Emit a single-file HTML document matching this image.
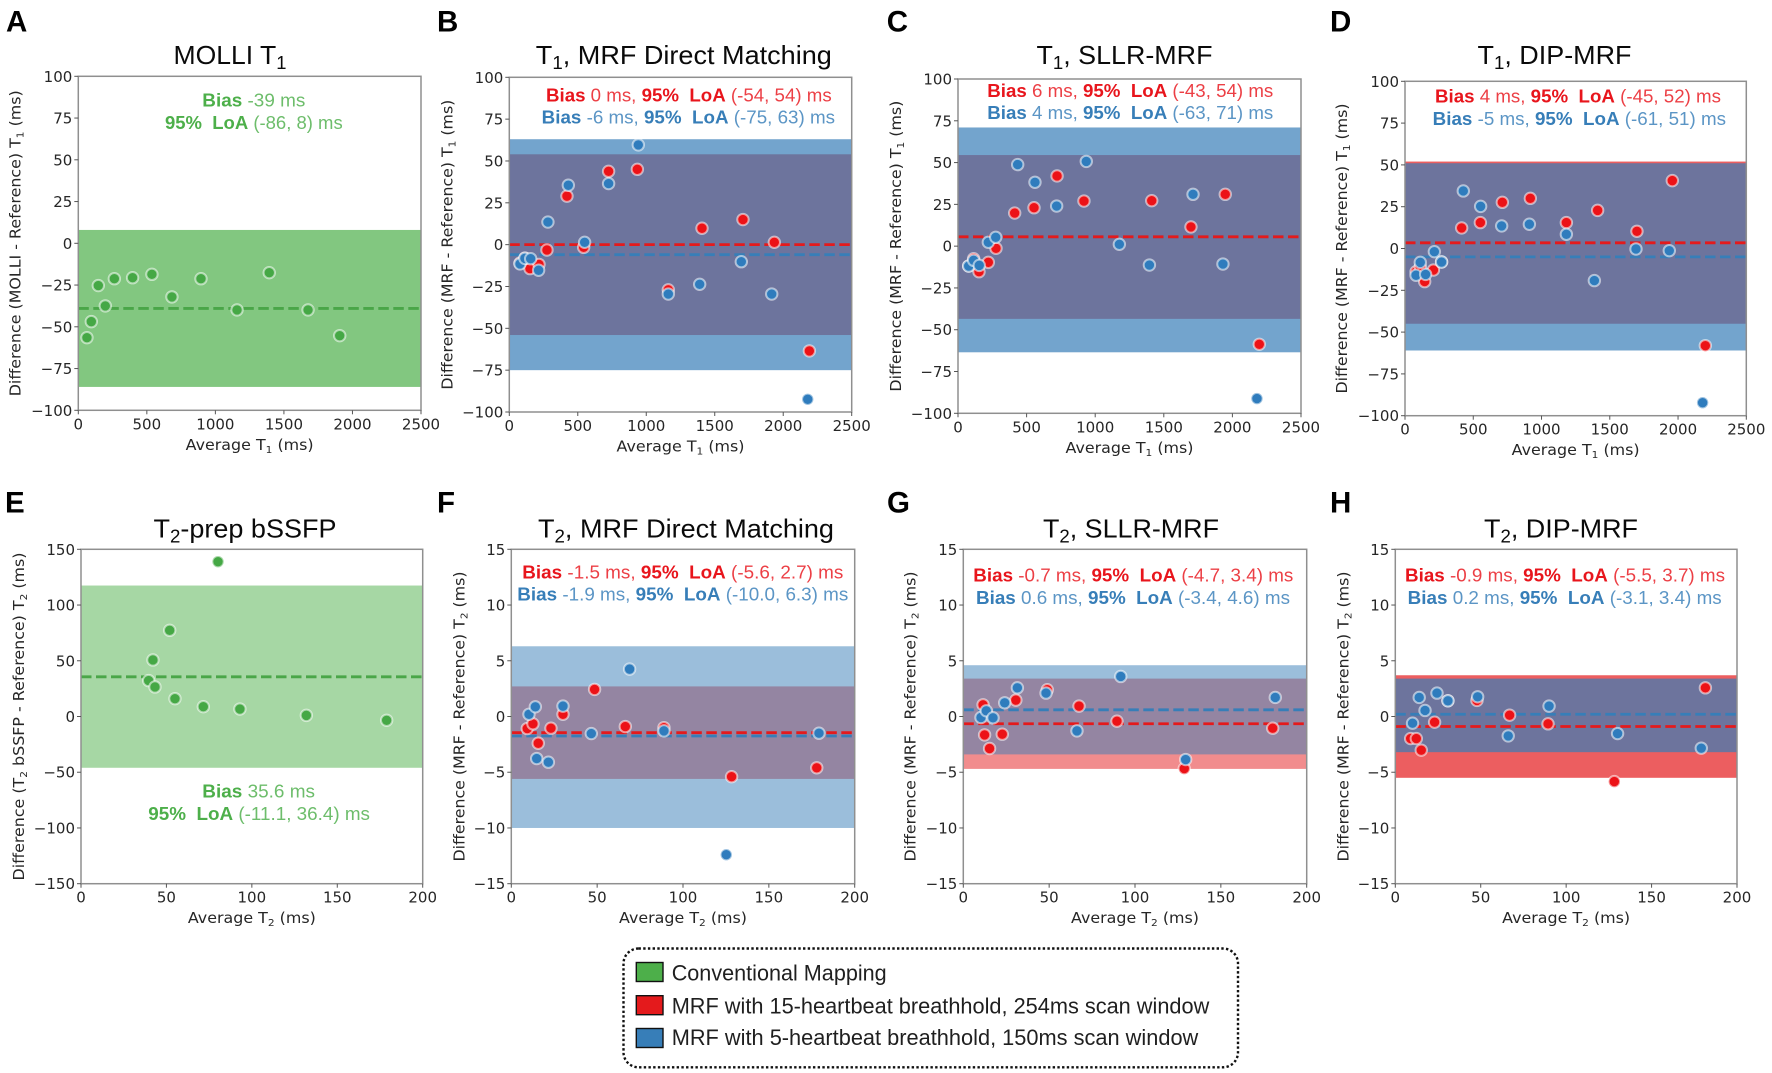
<!DOCTYPE html>
<html lang="en">
<head>
<meta charset="utf-8">
<title>Bland-Altman plots of T1 and T2 mapping</title>
<style>
  html, body { margin: 0; padding: 0; background: #fff; }
  svg { display: block; }
  text { white-space: pre; }
</style>
</head>
<body>
<svg id="figure" xmlns="http://www.w3.org/2000/svg" width="1772" height="1073" viewBox="0 0 1772 1073"></svg>
<script>
// ---------- Tick labels ----------
const t1XTicks = [0, 500, 1000, 1500, 2000, 2500];
const t1YTicks = [-100, -75, -50, -25, 0, 25, 50, 75, 100];
const t2XTicks = [0, 50, 100, 150, 200];
const bssfpYTicks = [-150, -100, -50, 0, 50, 100, 150];
const t2YTicks = [-15, -10, -5, 0, 5, 10, 15];

// ---------- Panel A: MOLLI T1 ----------
const aGreenX = [63, 95, 146, 197, 263, 396, 537, 683, 895, 1158, 1393, 1676, 1907];
const aGreenY = [-56.5, -46.9, -25.3, -37.5, -21.2, -20.6, -18.6, -32.1, -21.2, -39.9, -17.6, -39.9, -55.3];
const aGreenLoA = [-86, 8];
const aGreenBias = [-39];

// ---------- Panel B: T1, MRF Direct Matching ----------
const bRedX = [78, 114, 151, 217, 275, 421, 543, 725, 935, 1161, 1407, 1706, 1935, 2191];
const bRedY = [-11, -8, -14.3, -11.8, -3.2, 29, -1.6, 43.8, 45, -27, 9.8, 15, 1.4, -63.5];
const bBlueX = [78, 114, 156, 214, 282, 431, 550, 725, 942, 1161, 1390, 1694, 1916, 2179];
const bBlueY = [-11.5, -8.2, -8.4, -15.3, 13.5, 35.5, 1.4, 36.5, 59.6, -29.5, -23.7, -10.2, -29.5, -92.4];
const bRedLoA = [-54, 54];
const bBlueLoA = [-75, 63];
const bRedBias = [0];
const bBlueBias = [-6];

// ---------- Panel C: T1, SLLR-MRF ----------
const cRedX = [78, 114, 153, 221, 277, 413, 554, 722, 918, 1412, 1698, 1948, 2196];
const cRedY = [-11.9, -7.5, -15.3, -9.7, -1.3, 19.8, 23, 42, 27, 27.2, 11.5, 31, -58.7];
const cBlueX = [78, 114, 155, 221, 275, 435, 561, 719, 935, 1176, 1395, 1713, 1931, 2179];
const cBlueY = [-11.9, -8.5, -11.5, 2.3, 5.3, 48.8, 38.2, 24, 50.7, 1.1, -11.3, 31, -10.7, -91.2];
const cRedLoA = [-43.5, 54.5];
const cBlueLoA = [-63.5, 71];
const cRedBias = [5.6];
const cBlueBias = [5.6];

// ---------- Panel D: T1, DIP-MRF ----------
const dRedX = [81, 112, 144, 208, 268, 415, 552, 713, 918, 1182, 1411, 1699, 1958, 2200];
const dRedY = [-13.9, -11, -19.8, -12.9, -8, 12.3, 15.5, 27.6, 30, 15.5, 22.8, 10.3, 40.6, -58.1];
const dBlueX = [81, 112, 151, 215, 268, 427, 554, 708, 911, 1182, 1387, 1692, 1936, 2180];
const dBlueY = [-16, -8.3, -15.5, -1.9, -8.1, 34.4, 25.2, 13.5, 14.5, 8.5, -19.2, -0.3, -1.3, -92.2];
const dRedLoA = [-45, 52];
const dBlueLoA = [-61, 51];
const dRedBias = [3.4];
const dBlueBias = [-5];

// ---------- Panel E: T2-prep bSSFP ----------
const eGreenX = [39.6, 42.1, 43.3, 51.9, 55, 71.6, 93, 131.9, 178.9, 80.2];
const eGreenY = [32.2, 50.7, 26.5, 77.3, 16, 8.8, 6.7, 1, -3.4, 138.9];
const eGreenLoA = [-46, 117.5];
const eGreenBias = [35.6];

// ---------- Panel F: T2, MRF Direct Matching ----------
const fRedX = [9.3, 12.6, 15.7, 23.1, 30.1, 48.5, 66.4, 88.9, 128.3, 177.9];
const fRedY = [-1.08, -0.66, -2.4, -1.05, 0.2, 2.43, -0.9, -1, -5.4, -4.6];
const fBlueX = [10.3, 14, 14.8, 21.6, 30.1, 46.6, 68.9, 88.9, 125.2, 179.2];
const fBlueY = [0.2, 0.87, -3.77, -4.1, 0.93, -1.53, 4.25, -1.29, -12.4, -1.5];
const fRedLoA = [-5.6, 2.7];
const fBlueLoA = [-10, 6.3];
const fRedBias = [-1.45];
const fBlueBias = [-1.75];

// ---------- Panel G: T2, SLLR-MRF ----------
const gRedX = [11.5, 12.4, 15.3, 22.7, 30.6, 48.9, 67.4, 89.5, 128.7, 180.2];
const gRedY = [1.05, -1.65, -2.87, -1.59, 1.47, 2.4, 0.93, -0.42, -4.67, -1.05];
const gBlueX = [10.3, 13.4, 17.3, 24.1, 31.5, 48.2, 66.2, 91.7, 129.5, 181.7];
const gBlueY = [-0.09, 0.51, -0.12, 1.23, 2.57, 2.1, -1.29, 3.59, -3.86, 1.71];
const gRedLoA = [-4.7, 3.4];
const gBlueLoA = [-3.4, 4.6];
const gRedBias = [-0.65];
const gBlueBias = [0.6];

// ---------- Panel H: T2, DIP-MRF ----------
const hRedX = [9, 12.3, 15.2, 23, 30.8, 47.8, 66.9, 89.4, 128.2, 181.5];
const hRedY = [-1.98, -1.98, -3.02, -0.51, 1.41, 1.44, 0.12, -0.66, -5.84, 2.57];
const hBlueX = [10.1, 14, 17.4, 24.4, 30.8, 48.2, 66.1, 90, 130.1, 179.1];
const hBlueY = [-0.6, 1.71, 0.54, 2.1, 1.41, 1.77, -1.74, 0.93, -1.53, -2.84];
const hRedLoA = [-5.5, 3.7];
const hBlueLoA = [-3.2, 3.4];
const hRedBias = [-0.9];
const hBlueBias = [0.2];

// ---------- Styling ----------
const RED = { band: '#e41a1c', line: '#e41a1c', dot: '#ec1217', text: '#e8151c' };
const BLUE = { band: '#377eb8', line: '#377eb8', dot: '#2f7cbd', text: '#377eb8' };
const GREEN = { band: '#4daf4a', line: '#4aa648', dot: '#45a845', text: '#4daf4a' };
const SANS = '"Liberation Sans", Arial, sans-serif';
const DEJAVU = '"DejaVu Sans", "Liberation Sans", sans-serif';
const T1X = [0, 2500], T1Y = [-100, 100], T2X = [0, 200], BY = [-150, 150], T2Y = [-15, 15];

const panels = [
  { id: 'a', letter: 'A', lx: 6, ly: 31.7, box: [78.3, 76.3, 421, 410.3], xd: T1X, yd: T1Y, xt: t1XTicks, yt: t1YTicks, alpha: 0.7,
    title: 'MOLLI T_1', tc: 230, tw: 113, tb: 64, xl: 'Average T_1 (ms)', xlw: 128, yl: 'Difference (MOLLI - Reference) T_1 (ms)', ylw: 306, ylo: 57.6,
    series: [{ s: GREEN, x: aGreenX, y: aGreenY, loa: aGreenLoA, bias: aGreenBias }],
    notes: [[GREEN, '**Bias** -39 ms', 202.3, 103, 106.7], [GREEN, '**95%  LoA** (-86, 8) ms', 165, 177.7, 129]] },
  { id: 'b', letter: 'B', lx: 437, ly: 31.7, box: [509.3, 77.3, 851.7, 412], xd: T1X, yd: T1Y, xt: t1XTicks, yt: t1YTicks, alpha: 0.7,
    title: 'T_1, MRF Direct Matching', tc: 683.8, tw: 296, tb: 64, xl: 'Average T_1 (ms)', xlw: 128, yl: 'Difference (MRF - Reference) T_1 (ms)', ylw: 290, ylo: 57,
    series: [{ s: RED, x: bRedX, y: bRedY, loa: bRedLoA, bias: bRedBias }, { s: BLUE, x: bBlueX, y: bBlueY, loa: bBlueLoA, bias: bBlueBias }],
    notes: [[RED, '**Bias** 0 ms, **95%  LoA** (-54, 54) ms', 546, 285.7, 101.3], [BLUE, '**Bias** -6 ms, **95%  LoA** (-75, 63) ms', 541.7, 293.3, 123.7]] },
  { id: 'c', letter: 'C', lx: 886.7, ly: 31.7, box: [958, 79, 1301, 413.3], xd: T1X, yd: T1Y, xt: t1XTicks, yt: t1YTicks, alpha: 0.7,
    title: 'T_1, SLLR-MRF', tc: 1124.5, tw: 176, tb: 64, xl: 'Average T_1 (ms)', xlw: 128, yl: 'Difference (MRF - Reference) T_1 (ms)', ylw: 291, ylo: 57,
    series: [{ s: BLUE, x: cBlueX, y: cBlueY, loa: cBlueLoA, bias: cBlueBias, under: true }, { s: RED, x: cRedX, y: cRedY, loa: cRedLoA, bias: cRedBias }],
    notes: [[RED, '**Bias** 6 ms, **95%  LoA** (-43, 54) ms', 987.3, 286, 97], [BLUE, '**Bias** 4 ms, **95%  LoA** (-63, 71) ms', 987.3, 286, 119]] },
  { id: 'd', letter: 'D', lx: 1330, ly: 31.7, box: [1405, 81.3, 1746.3, 415.7], xd: T1X, yd: T1Y, xt: t1XTicks, yt: t1YTicks, alpha: 0.7,
    title: 'T_1, DIP-MRF', tc: 1554.5, tw: 154, tb: 64, xl: 'Average T_1 (ms)', xlw: 128, yl: 'Difference (MRF - Reference) T_1 (ms)', ylw: 290, ylo: 58,
    series: [{ s: RED, x: dRedX, y: dRedY, loa: dRedLoA, bias: dRedBias }, { s: BLUE, x: dBlueX, y: dBlueY, loa: dBlueLoA, bias: dBlueBias }],
    notes: [[RED, '**Bias** 4 ms, **95%  LoA** (-45, 52) ms', 1435, 286, 102.7], [BLUE, '**Bias** -5 ms, **95%  LoA** (-61, 51) ms', 1432.7, 293.3, 125]] },
  { id: 'e', letter: 'E', lx: 5, ly: 512.3, box: [81, 549.3, 422.7, 883.7], xd: T2X, yd: BY, xt: t2XTicks, yt: bssfpYTicks, alpha: 0.5,
    title: 'T_2-prep bSSFP', tc: 245, tw: 183, tb: 537.7, xl: 'Average T_2 (ms)', xlw: 128, yl: 'Difference (T_2 bSSFP - Reference) T_2 (ms)', ylw: 328, ylo: 57,
    series: [{ s: GREEN, x: eGreenX, y: eGreenY, loa: eGreenLoA, bias: eGreenBias }],
    notes: [[GREEN, '**Bias** 35.6 ms', 202.3, 112.7, 797.7], [GREEN, '**95%  LoA** (-11.1, 36.4) ms', 148.3, 221.7, 820]] },
  { id: 'f', letter: 'F', lx: 437, ly: 512.3, box: [511.3, 549.3, 854.7, 883.7], xd: T2X, yd: T2Y, xt: t2XTicks, yt: t2YTicks, alpha: 0.5,
    title: 'T_2, MRF Direct Matching', tc: 686, tw: 296, tb: 537.7, xl: 'Average T_2 (ms)', xlw: 128, yl: 'Difference (MRF - Reference) T_2 (ms)', ylw: 290, ylo: 47,
    series: [{ s: RED, x: fRedX, y: fRedY, loa: fRedLoA, bias: fRedBias }, { s: BLUE, x: fBlueX, y: fBlueY, loa: fBlueLoA, bias: fBlueBias }],
    notes: [[RED, '**Bias** -1.5 ms, **95%  LoA** (-5.6, 2.7) ms', 522.3, 321, 578.3], [BLUE, '**Bias** -1.9 ms, **95%  LoA** (-10.0, 6.3) ms', 517.3, 331, 600.7]] },
  { id: 'g', letter: 'G', lx: 887, ly: 512.3, box: [963.3, 549.3, 1306.7, 883.7], xd: T2X, yd: T2Y, xt: t2XTicks, yt: t2YTicks, alpha: 0.5,
    title: 'T_2, SLLR-MRF', tc: 1131, tw: 176, tb: 537.7, xl: 'Average T_2 (ms)', xlw: 128, yl: 'Difference (MRF - Reference) T_2 (ms)', ylw: 290, ylo: 47.6,
    series: [{ s: RED, x: gRedX, y: gRedY, loa: gRedLoA, bias: gRedBias }, { s: BLUE, x: gBlueX, y: gBlueY, loa: gBlueLoA, bias: gBlueBias }],
    notes: [[RED, '**Bias** -0.7 ms, **95%  LoA** (-4.7, 3.4) ms', 973.3, 320, 581.7], [BLUE, '**Bias** 0.6 ms, **95%  LoA** (-3.4, 4.6) ms', 976, 314, 604]] },
  { id: 'h', letter: 'H', lx: 1330, ly: 512.3, box: [1395.3, 549.3, 1737, 883.7], xd: T2X, yd: T2Y, xt: t2XTicks, yt: t2YTicks, alpha: 0.7,
    title: 'T_2, DIP-MRF', tc: 1561, tw: 154, tb: 537.7, xl: 'Average T_2 (ms)', xlw: 128, yl: 'Difference (MRF - Reference) T_2 (ms)', ylw: 290, ylo: 47,
    series: [{ s: RED, x: hRedX, y: hRedY, loa: hRedLoA, bias: hRedBias }, { s: BLUE, x: hBlueX, y: hBlueY, loa: hBlueLoA, bias: hBlueBias }],
    notes: [[RED, '**Bias** -0.9 ms, **95%  LoA** (-5.5, 3.7) ms', 1405, 320, 581.7], [BLUE, '**Bias** 0.2 ms, **95%  LoA** (-3.1, 3.4) ms', 1407.7, 314, 604]] }
];

const NS = 'http://www.w3.org/2000/svg';
const root = document.getElementById('figure');

function make(tag, parent) {
  const el = document.createElementNS(NS, tag);
  parent.appendChild(el);
  return el;
}

// Adds text with "_1" style subscripts as tspans.
function addSubText(el, str, subSize, shift) {
  const parts = str.split(/_(\d)/);
  let pendingUp = false;
  parts.forEach(function (part, i) {
    if (part === '') return;
    const ts = make('tspan', el);
    ts.textContent = part;
    if (i % 2 === 1) {
      ts.setAttribute('font-size', subSize);
      ts.setAttribute('dy', shift);
      pendingUp = true;
    } else if (pendingUp) {
      ts.setAttribute('dy', -shift);
      pendingUp = false;
    }
  });
}

function drawPanel(p) {
  const g = make('g', root);
  
  

  const L = p.box[0], T = p.box[1], R = p.box[2], B = p.box[3];
  const xScale = function (v) { return L + (v - p.xd[0]) / (p.xd[1] - p.xd[0]) * (R - L); };
  const yScale = function (v) { return B - (v - p.yd[0]) / (p.yd[1] - p.yd[0]) * (B - T); };

  // Panel letter
  const letter = make('text', g);
  letter.textContent = p.letter;
  letter.setAttribute('x', p.lx);
  letter.setAttribute('y', p.ly);
  letter.setAttribute('font-family', SANS);
  letter.setAttribute('font-weight', 'bold');
  letter.setAttribute('font-size', '29.5');
  letter.setAttribute('fill', '#000');
  
  

  // Title
  const title = make('text', g);
  title.setAttribute('x', p.tc);
  title.setAttribute('y', p.tb);
  title.setAttribute('text-anchor', 'middle');
  title.setAttribute('font-family', SANS);
  title.setAttribute('font-size', '26');
  title.setAttribute('fill', '#0a0a0a');
  title.setAttribute('textLength', p.tw);
  title.setAttribute('lengthAdjust', 'spacingAndGlyphs');
  
  
  addSubText(title, p.title, 18, 5);

  // LoA bands, drawn in series order with transparency
  const orderedBands = p.series.filter(function (s) { return !s.under; }).concat(p.series.filter(function (s) { return s.under; }));
  orderedBands.forEach(function (s) {
    const band = make('rect', g);
    band.setAttribute('x', L);
    band.setAttribute('width', R - L);
    band.setAttribute('y', yScale(s.loa[1]));
    band.setAttribute('height', yScale(s.loa[0]) - yScale(s.loa[1]));
    band.setAttribute('fill', s.s.band);
    band.setAttribute('fill-opacity', p.alpha);
    
    
  });

  // Bias lines
  p.series.forEach(function (s) {
    const line = make('line', g);
    line.setAttribute('x1', L);
    line.setAttribute('x2', R);
    line.setAttribute('y1', yScale(s.bias[0]));
    line.setAttribute('y2', yScale(s.bias[0]));
    line.setAttribute('stroke', s.s.line);
    line.setAttribute('stroke-width', '2.8');
    line.setAttribute('stroke-dasharray', '10.5 4.5');
    
    
  });

  // Points: red under blue
  orderedBands.forEach(function (s) {
    s.x.forEach(function (xv, i) {
      const dot = make('circle', g);
      dot.setAttribute('cx', xScale(xv));
      dot.setAttribute('cy', yScale(s.y[i]));
      dot.setAttribute('r', '5.7');
      dot.setAttribute('fill', s.s.dot);
      dot.setAttribute('stroke', '#fff');
      dot.setAttribute('stroke-opacity', '0.55');
      dot.setAttribute('stroke-width', '2');
      
      
    });
  });

  // Plot frame
  const frame = make('rect', g);
  frame.setAttribute('x', L);
  frame.setAttribute('y', T);
  frame.setAttribute('width', R - L);
  frame.setAttribute('height', B - T);
  frame.setAttribute('fill', 'none');
  frame.setAttribute('stroke', '#8f8f8f');
  frame.setAttribute('stroke-width', '1.5');
  
  

  // X ticks
  p.xt.forEach(function (v) {
    const tick = make('line', g);
    tick.setAttribute('x1', xScale(v));
    tick.setAttribute('x2', xScale(v));
    tick.setAttribute('y1', B);
    tick.setAttribute('y2', B + 4);
    tick.setAttribute('stroke', '#555');
    tick.setAttribute('stroke-width', '1');
    
    

    const lab = make('text', g);
    lab.textContent = String(v);
    lab.setAttribute('x', xScale(v));
    lab.setAttribute('y', B + 19);
    lab.setAttribute('text-anchor', 'middle');
    lab.setAttribute('font-family', DEJAVU);
    lab.setAttribute('font-size', '15');
    lab.setAttribute('fill', '#262626');
    
    
  });

  // Y ticks
  p.yt.forEach(function (v) {
    const tick = make('line', g);
    tick.setAttribute('x1', L - 4);
    tick.setAttribute('x2', L);
    tick.setAttribute('y1', yScale(v));
    tick.setAttribute('y2', yScale(v));
    tick.setAttribute('stroke', '#555');
    tick.setAttribute('stroke-width', '1');
    
    

    const lab = make('text', g);
    lab.textContent = String(v).replace('-', '\u2212');
    lab.setAttribute('x', L - 6);
    lab.setAttribute('y', yScale(v) + 5.5);
    lab.setAttribute('text-anchor', 'end');
    lab.setAttribute('font-family', DEJAVU);
    lab.setAttribute('font-size', '15');
    lab.setAttribute('fill', '#262626');
    
    
  });

  // X axis title
  const xTitle = make('text', g);
  xTitle.setAttribute('x', (L + R) / 2);
  xTitle.setAttribute('y', B + 39.5);
  xTitle.setAttribute('text-anchor', 'middle');
  xTitle.setAttribute('font-family', DEJAVU);
  xTitle.setAttribute('font-size', '15');
  xTitle.setAttribute('fill', '#262626');
  xTitle.setAttribute('textLength', p.xlw);
  xTitle.setAttribute('lengthAdjust', 'spacingAndGlyphs');
  
  
  addSubText(xTitle, p.xl, 10, 3);

  // Y axis title
  const yTitle = make('text', g);
  const yx = L - p.ylo, yy = (T + B) / 2;
  yTitle.setAttribute('transform', 'translate(' + yx + ',' + yy + ') rotate(-90)');
  yTitle.setAttribute('text-anchor', 'middle');
  yTitle.setAttribute('font-family', DEJAVU);
  yTitle.setAttribute('font-size', '15');
  yTitle.setAttribute('fill', '#262626');
  yTitle.setAttribute('textLength', p.ylw);
  yTitle.setAttribute('lengthAdjust', 'spacingAndGlyphs');
  
  
  addSubText(yTitle, p.yl, 10, 3);

  // Annotations: **bold** markers separate bold and regular runs
  p.notes.forEach(function (n) {
    const note = make('text', g);
    note.setAttribute('x', n[2]);
    note.setAttribute('y', n[4]);
    note.setAttribute('font-family', SANS);
    note.setAttribute('font-size', '18');
    note.setAttribute('fill', n[0].text);
    note.setAttribute('textLength', n[3]);
    note.setAttribute('lengthAdjust', 'spacingAndGlyphs');
    
    
    n[1].split('**').forEach(function (run, i) {
      if (run === '') return;
      const ts = make('tspan', note);
      ts.textContent = run;
      if (i % 2 === 1) {
        ts.setAttribute('font-weight', 'bold');
      } else {
        ts.setAttribute('fill-opacity', '0.82');
      }
    });
  });
}

panels.forEach(drawPanel);

// ---------- Legend ----------
const legendLabels = ['Conventional Mapping', 'MRF with 15-heartbeat breathhold, 254ms scan window', 'MRF with 5-heartbeat breathhold, 150ms scan window'];
const legendColors = ['#4daf4a', '#e41a1c', '#377eb8'];
const legendWidths = [215, 537.6, 526.6];
const legendSwatchTops = [962.5, 995.7, 1028.5];
const legendBaselines = [980.7, 1013.3, 1045];

const legend = make('g', root);



const legendBox = make('rect', legend);
legendBox.setAttribute('x', 623.5);
legendBox.setAttribute('y', 948.5);
legendBox.setAttribute('width', 614.5);
legendBox.setAttribute('height', 118.8);
legendBox.setAttribute('rx', 15);
legendBox.setAttribute('fill', '#fff');
legendBox.setAttribute('stroke', '#111');
legendBox.setAttribute('stroke-width', '2.4');
legendBox.setAttribute('stroke-dasharray', '2.4 2.3');



legendLabels.forEach(function (label, i) {
  const swatch = make('rect', legend);
  swatch.setAttribute('x', 636.3);
  swatch.setAttribute('y', legendSwatchTops[i]);
  swatch.setAttribute('width', 26.7);
  swatch.setAttribute('height', 19);
  swatch.setAttribute('fill', legendColors[i]);
  swatch.setAttribute('stroke', '#111');
  swatch.setAttribute('stroke-width', '1.4');
  
  

  const entry = make('text', legend);
  entry.textContent = label;
  entry.setAttribute('x', 671.7);
  entry.setAttribute('y', legendBaselines[i]);
  entry.setAttribute('font-family', SANS);
  entry.setAttribute('font-size', '22');
  entry.setAttribute('fill', '#1f1f1f');
  entry.setAttribute('textLength', legendWidths[i]);
  entry.setAttribute('lengthAdjust', 'spacingAndGlyphs');
  
  
});
</script>
</body>
</html>
